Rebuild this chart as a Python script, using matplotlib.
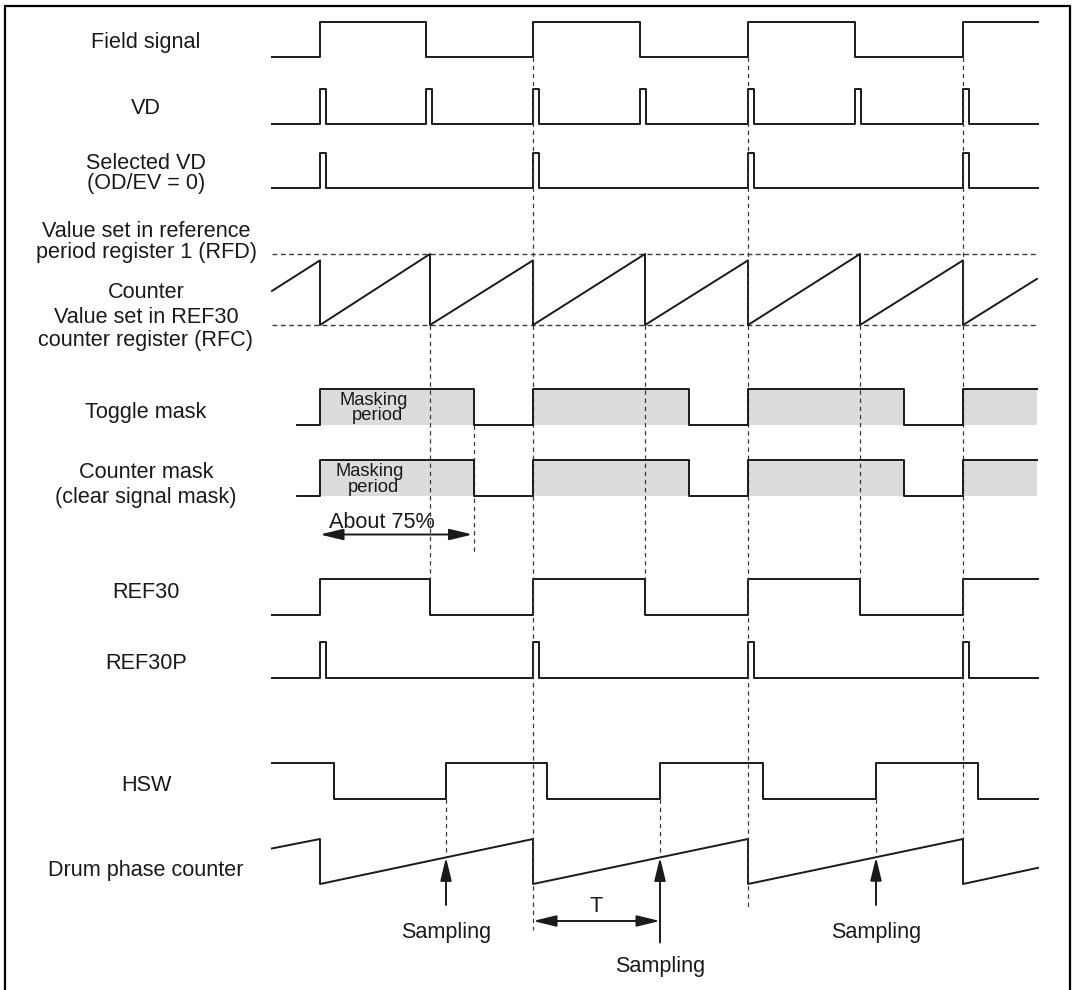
import numpy as np
import matplotlib.pyplot as plt
from matplotlib.patches import ArrowStyle

plt.rcParams['font.family'] = ['Liberation Sans', 'DejaVu Sans']

# time runs left to right in drawing units
t_start = 272
t_end = 1038
mask_start = 297
pulse_w = 6

field_edges = [320, 426, 533, 640, 748, 855, 963]
vd_pulses = [320, 426, 533, 640, 748, 855, 963]
sel_vd_pulses = [320, 533, 748, 963]
# counter between RFC (0) and RFD (1)
counter_t = [272, 320, 320, 430, 430, 533, 533, 645, 645, 748, 748, 860, 860, 963, 963, 1037]
counter_v = [0.48, 0.91, 0, 1.0, 0, 0.91, 0, 1.0, 0, 0.91, 0, 1.0, 0, 0.91, 0, 0.65]
mask_edges = [320, 474, 533, 689, 748, 904, 963]
ref30_edges = [320, 430, 533, 645, 748, 860, 963]
ref30p_pulses = [320, 533, 748, 963]
hsw_edges = [334, 446, 547, 660, 763, 876, 978]
drum_t = [272, 320, 320, 533, 533, 748, 748, 963, 963, 1038]
drum_v = [0.79, 1, 0, 1, 0, 1, 0, 1, 0, 0.36]
sampling_t = [446, 660, 876]

# row positions: (low y, high y)
rows = {
    'field': (57, 21.7),
    'vd': (124.3, 88.7),
    'selvd': (188.3, 152.7),
    'counter': (325, 254),
    'toggle': (424.5, 389),
    'cmask': (496, 460),
    'ref30': (614.7, 578.7),
    'ref30p': (678, 642.3),
    'hsw': (799.3, 762.7),
    'drum': (884, 839),
}

labels = [
    ("Field signal", 40), ("VD", 106),
    ("Selected VD", 161), ("(OD/EV = 0)", 181.5),
    ("Value set in reference", 229), ("period register 1 (RFD)", 250),
    ("Counter", 290), ("Value set in REF30", 315), ("counter register (RFC)", 338),
    ("Toggle mask", 410), ("Counter mask", 470), ("(clear signal mask)", 495),
    ("REF30", 590), ("REF30P", 661.5), ("HSW", 783.5), ("Drum phase counter", 868.5),
]

LINE = '#1a1a1a'
DASH = '#3a3a3a'
GRAY = '#dcdcde'
FS = 15.6


def to_y(row, v):
    lo, hi = rows[row]
    return lo + (hi - lo) * np.asarray(v, dtype=float)


def step(edges, start_level=0, t0=t_start, t1=t_end):
    xs, vs = [t0], [start_level]
    lev = start_level
    for e in edges:
        xs += [e, e]
        vs += [lev, 1 - lev]
        lev = 1 - lev
    xs.append(t1)
    vs.append(lev)
    return np.array(xs), np.array(vs)


def pulses(starts):
    edges = []
    for p in starts:
        edges += [p, p + pulse_w]
    return step(edges)


fig = plt.figure(figsize=(10.76, 9.90), dpi=100)
ax = fig.add_axes([0, 0, 1, 1])
ax.set_xlim(0, 1076)
ax.set_ylim(990, 0)
ax.axis('off')

# frame
ax.plot([5, 5, 1070, 1070], [995, 5.5, 5.5, 995], color='black', lw=1.6, solid_joinstyle='miter')

# signals
x, v = step(field_edges)
ax.plot(x, to_y('field', v), color=LINE, lw=1.4)
x, v = pulses(vd_pulses)
ax.plot(x, to_y('vd', v), color=LINE, lw=1.4)
x, v = pulses(sel_vd_pulses)
ax.plot(x, to_y('selvd', v), color=LINE, lw=1.4)

# counter with its limit lines
for lev in (0, 1):
    ax.plot([t_start, t_end], [to_y('counter', lev)] * 2, color=DASH, lw=1.0, ls=(0, (3.5, 2.5)))
ax.plot(counter_t, to_y('counter', counter_v), color=LINE, lw=1.4)

# masks with gray masking period
for row in ('toggle', 'cmask'):
    x, v = step(mask_edges, t0=mask_start, t1=1037)
    lo, hi = rows[row]
    ax.fill_between(x, lo, to_y(row, v), color=GRAY, lw=0, zorder=1)
    ax.plot(x, to_y(row, v), color=LINE, lw=1.4, zorder=3)

ax.text(374, 405, "Masking", fontsize=13.2, ha='center', va='baseline', color=LINE, zorder=4)
ax.text(377, 420.5, "period", fontsize=13.2, ha='center', va='baseline', color=LINE, zorder=4)
ax.text(370, 476, "Masking", fontsize=13.2, ha='center', va='baseline', color=LINE, zorder=4)
ax.text(373, 491.5, "period", fontsize=13.2, ha='center', va='baseline', color=LINE, zorder=4)

x, v = step(ref30_edges)
ax.plot(x, to_y('ref30', v), color=LINE, lw=1.4)
x, v = pulses(ref30p_pulses)
ax.plot(x, to_y('ref30p', v), color=LINE, lw=1.4)
x, v = step(hsw_edges, start_level=1)
ax.plot(x, to_y('hsw', v), color=LINE, lw=1.4)
ax.plot(drum_t, to_y('drum', drum_v), color=LINE, lw=1.4)

# dashed guide lines
guides = [
    (ref30_edges[1], to_y('counter', 0), to_y('ref30', 1)),
    (ref30_edges[3], to_y('counter', 0), to_y('ref30', 1)),
    (ref30_edges[5], to_y('counter', 0), to_y('ref30', 1)),
    (mask_edges[1], to_y('toggle', 0), 553),
    (field_edges[2], to_y('field', 0), 930),
    (field_edges[4], to_y('field', 0), 908),
    (field_edges[6], to_y('field', 0), to_y('drum', 1)),
]
samp_v = np.interp(sampling_t, drum_t[2:4] + drum_t[4:6] + drum_t[6:8],
                   drum_v[2:4] + drum_v[4:6] + drum_v[6:8])
for t, sv in zip(sampling_t, samp_v):
    guides.append((t, to_y('hsw', 0), to_y('drum', sv)))
for gx, y0, y1 in guides:
    ax.plot([gx, gx], [y0, y1], color=DASH, lw=0.9, ls=(0, (3.5, 3)), zorder=2)

# arrows
one_way = ArrowStyle('-|>', head_length=0.7, head_width=0.17)
two_way = ArrowStyle('<|-|>', head_length=0.7, head_width=0.17)
ax.annotate('', xy=(mask_edges[1] - 1.5, 534.5), xytext=(mask_edges[0], 534.5),
            arrowprops=dict(arrowstyle=two_way, mutation_scale=20, color=LINE, lw=1.4,
                            shrinkA=0, shrinkB=0))
ax.text(381.5, 528.5, "About 75%", fontsize=FS, ha='center', va='baseline', color=LINE)

samp_start = [905, 942.5, 905]
samp_text = [938, 972, 938]
for t, sv, y0, yt in zip(sampling_t, samp_v, samp_start, samp_text):
    ax.annotate('', xy=(t, to_y('drum', sv)), xytext=(t, y0),
                arrowprops=dict(arrowstyle=one_way, mutation_scale=20, color=LINE, lw=1.4,
                                shrinkA=0, shrinkB=0))
    ax.text(t, yt, "Sampling", fontsize=FS, ha='center', va='baseline', color=LINE)

ax.annotate('', xy=(sampling_t[1], 921), xytext=(field_edges[2], 921),
            arrowprops=dict(arrowstyle=two_way, mutation_scale=20, color=LINE, lw=1.4,
                            shrinkA=0, shrinkB=0))
ax.text(596, 912.5, "T", fontsize=FS, ha='center', va='baseline', color=LINE)

# row labels
for txt, yc in labels:
    ax.text(146, yc + 7.8, txt, fontsize=FS, ha='center', va='baseline', color=LINE)

plt.savefig("out.png", dpi=100)
